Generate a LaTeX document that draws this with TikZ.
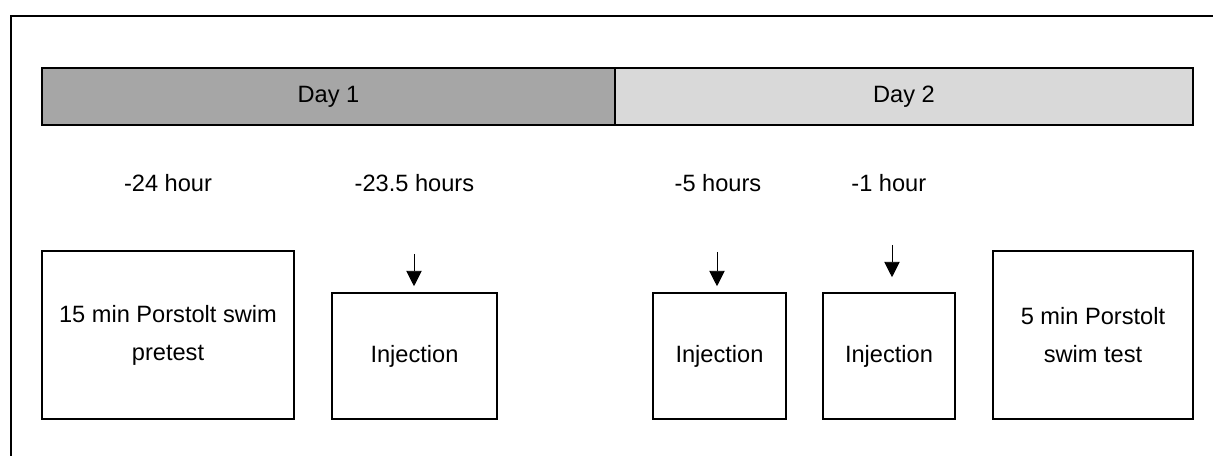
\documentclass[tikz,border=0pt]{standalone}
\usepackage{fontspec}
\setmainfont{Liberation Sans}
\usetikzlibrary{arrows.meta}
\tikzset{
  box/.style={draw,line width=1.1pt,inner sep=0pt,align=center,minimum height=3.15cm},
  daybar/.style={draw,line width=1.1pt,inner sep=0pt,minimum width=14.39cm,minimum height=1.425cm},
  timelabel/.style={inner sep=0pt},
  pointer/.style={-{Triangle[width=11pt,length=11pt]},line width=0.7pt,shorten >=0.15cm}
}

\begin{document}
\begin{tikzpicture}[font=\fontsize{16.8}{27}\selectfont]
                    \useasboundingbox (0,0) rectangle (30.325,11.4);
                    \draw[line width=1.1pt] (0.275,0)--(0.275,11.0)--(30.325,11.0);
                    \node[daybar,fill=black!35,minimum width=14.325cm] (day1) at (8.2125,8.9875) {Day 1};
                    \node[daybar,fill=black!15,minimum width=14.45cm] (day2) at (22.6,8.9875) {Day 2};
                    \node[timelabel] (t1) at (4.2,6.825) {-24 hour};
                    \node[timelabel] (t2) at (10.36,6.825) {-23.5 hours};
                    \node[timelabel] (t3) at (17.95,6.825) {-5 hours};
                    \node[timelabel] (t4) at (22.22,6.825) {-1 hour};
                    \node[box,minimum width=6.3cm,minimum height=4.2cm] (pretest) at (4.2,3.025) {15 min Porstolt swim\\pretest};
                    \node[box,minimum width=4.125cm] (inj1) at (10.3625,2.5) {Injection};
                    \node[box,minimum width=3.325cm] (inj2) at (17.9875,2.5) {Injection};
                    \node[box,minimum width=3.3cm] (inj3) at (22.225,2.5) {Injection};
                    \node[box,minimum width=5.0cm,minimum height=4.2cm] (swimtest) at (27.325,3.025) {5 min Porstolt\\swim test};
                    \coordinate (a1) at (10.35,5.05);
                    \coordinate (a2) at (17.925,5.1);
                    \coordinate (a3) at (22.3,5.275);
                    \draw[pointer] (a1)--(a1|-inj1.north);
                    \draw[pointer] (a2)--(a2|-inj2.north);
                    \draw[pointer,shorten >=0.375cm] (a3)--(a3|-inj3.north);
                \end{tikzpicture}
\end{document}
